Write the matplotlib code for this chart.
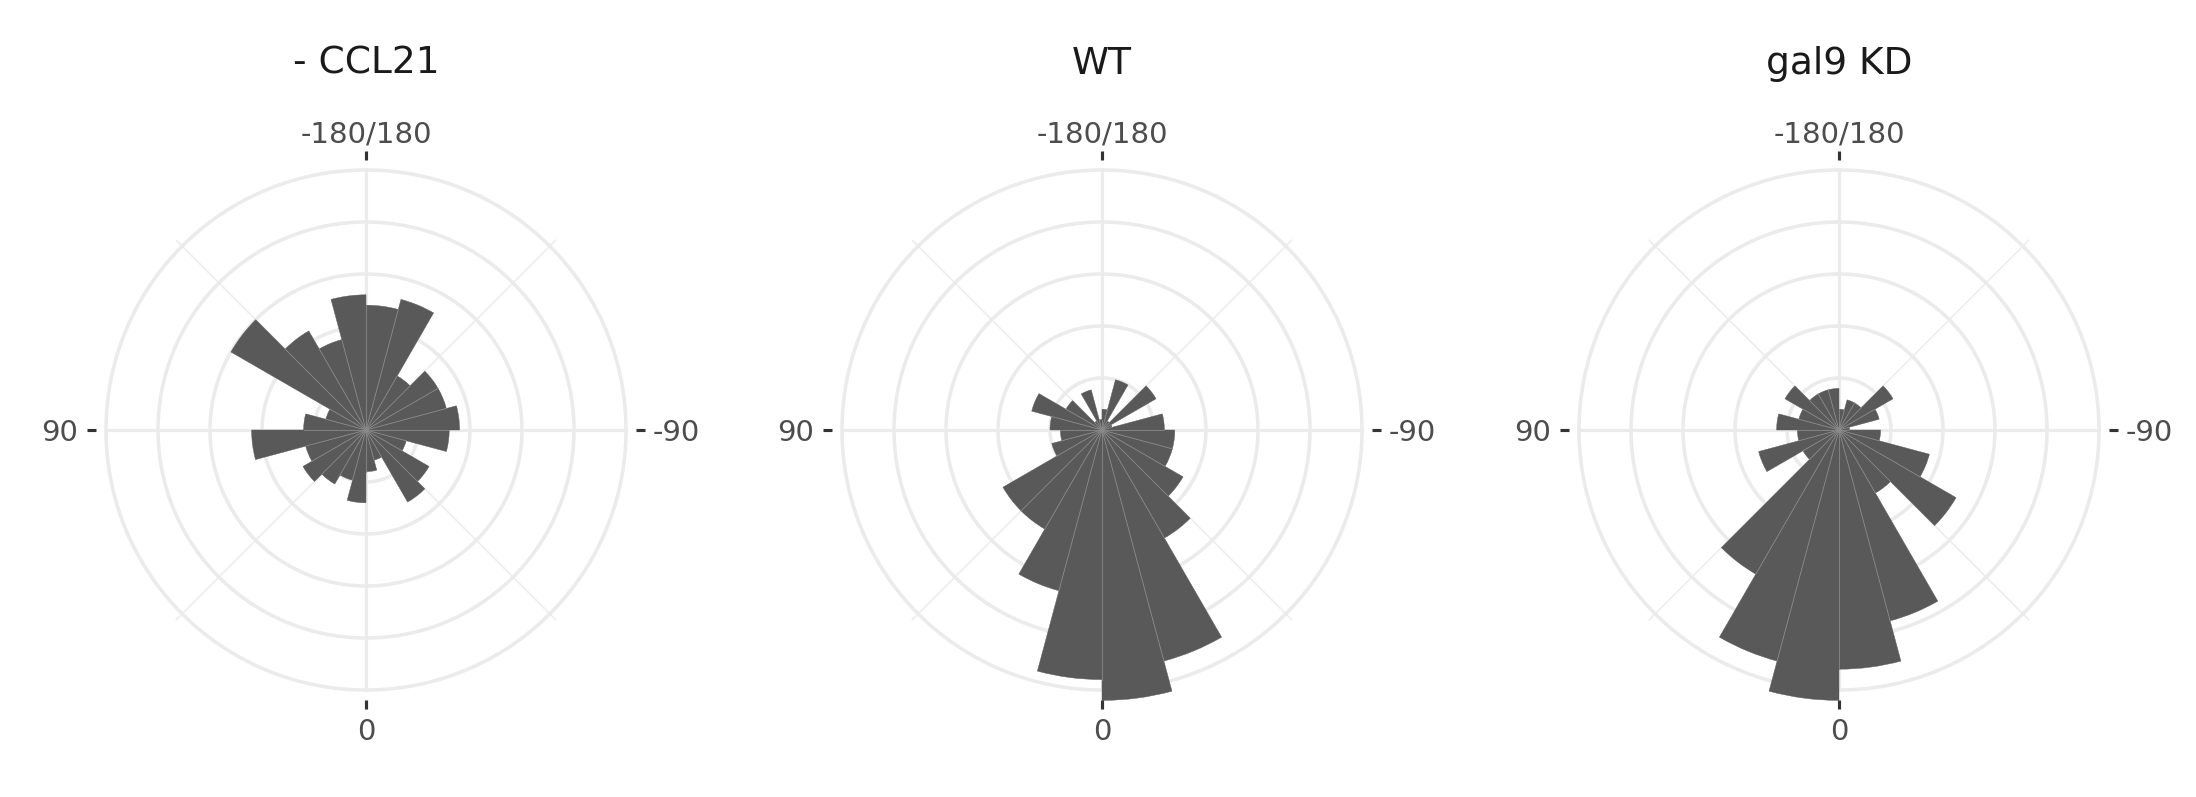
import numpy as np
import matplotlib
matplotlib.use("Agg")
import matplotlib.pyplot as plt
from matplotlib.transforms import offset_copy

# angle bins (left edge, degrees), 15 degree wide
bin_left = [-180, -165, -150, -135, -120, -105, -90, -75, -60, -45, -30, -15,
            0, 15, 30, 45, 60, 75, 90, 105, 120, 135, 150, 165]
bin_width = 15

# counts per bin for each condition
ccl21 = [12, 13, 6, 8, 8, 9, 8, 4, 7, 8, 3, 4, 7, 5, 6, 7, 6, 11, 6, 4, 15, 11, 9, 13]
wt = [2, 5, 1, 6, 1, 6, 7, 7, 9, 12, 23, 26, 24, 16, 11, 11, 5, 4, 5, 7, 4, 1, 4, 1]
gal9 = [2, 3, 3, 6, 4, 1, 4, 9, 13, 7, 19, 23, 26, 23, 16, 4, 8, 4, 6, 4, 6, 4, 4, 4]

titles = ["- CCL21", "WT", "gal9 KD"]
theta_breaks = [-180, -90, 0, 90]
theta_labels = ["-180/180", "-90", "0", "90"]
r_breaks = [5, 10, 15, 20, 25]

W, H, DPI = 2196, 797, 300
fig = plt.figure(figsize=(W / DPI, H / DPI), dpi=DPI)
fig.patch.set_facecolor("white")

centers_x = [366, 1102, 1839]
cy = 430
half = 312          # px, axes half size
rmax = 30           # data units at axes edge -> 10.4 px per count

grid_col = "#EBEBEB"
bar_col = "#595959"
lab_col = "#4D4D4D"


def to_theta(a):
    # -180 at top, going clockwise
    return np.radians(np.asarray(a, dtype=float) + 180)


for cx, title, counts in zip(centers_x, titles, [ccl21, wt, gal9]):
    ax = fig.add_axes([(cx - half) / W, (H - cy - half) / H, 2 * half / W, 2 * half / H],
                      projection="polar")
    ax.set_theta_zero_location("N")
    ax.set_theta_direction(-1)
    ax.set_ylim(0, rmax)
    ax.grid(False)
    ax.set_xticks([])
    ax.set_yticks([])
    ax.spines["polar"].set_visible(False)
    ax.set_facecolor("none")

    # grid circles
    tt = np.linspace(0, 2 * np.pi, 500)
    for r in r_breaks:
        ax.plot(tt, np.full_like(tt, r), color=grid_col, lw=0.85, zorder=1)
    # major theta lines
    for b in theta_breaks:
        ax.plot([to_theta(b)] * 2, [0, r_breaks[-1]], color=grid_col, lw=0.75, zorder=1)
    # minor theta lines
    for b in [-135, -45, 45, 135]:
        ax.plot([to_theta(b)] * 2, [0, 25.8], color=grid_col, lw=0.35, zorder=1)

    # bars
    ax.bar(to_theta(bin_left), counts, width=np.radians(bin_width), align="edge",
           color=bar_col, edgecolor=bar_col, linewidth=0.1, zorder=2)
    # light seams between neighbouring bars
    n = len(counts)
    for k in range(n):
        h = min(counts[k], counts[k - 1])
        ax.plot([to_theta(bin_left[k])] * 2, [0, h], color="#8a8a8a", lw=0.2, zorder=3)
    ax.scatter([0], [0], s=1.2, color="#8a8a8a", zorder=4, linewidths=0)

    # axis ticks and labels
    down = offset_copy(ax.transData, fig=fig, x=0, y=-0.7, units="points")
    for b, lab in zip(theta_breaks, theta_labels):
        th = float(to_theta(b))
        ax.plot([th, th], [26.0, 26.8], color="#333333", lw=0.75,
                solid_capstyle="butt", zorder=3, clip_on=False)
        if b == -180:
            ax.text(th, 28.4, lab, ha="center", va="center", fontsize=7,
                    color=lab_col, clip_on=False)
        elif b == 0:
            ax.text(th, 29.0, lab, ha="center", va="center", fontsize=7,
                    color=lab_col, clip_on=False)
        elif b == -90:
            ax.text(th, 27.6, lab, ha="left", va="center", fontsize=7,
                    color=lab_col, clip_on=False, transform=down)
        else:
            ax.text(th, 27.7, lab, ha="right", va="center", fontsize=7,
                    color=lab_col, clip_on=False, transform=down)

    ax.text(0.5, 0.5 + (cy - 64) / (2 * half), title, transform=ax.transAxes,
            ha="center", va="center", fontsize=9, color="#1A1A1A")

fig.savefig("out.png", dpi=DPI, facecolor="white")
